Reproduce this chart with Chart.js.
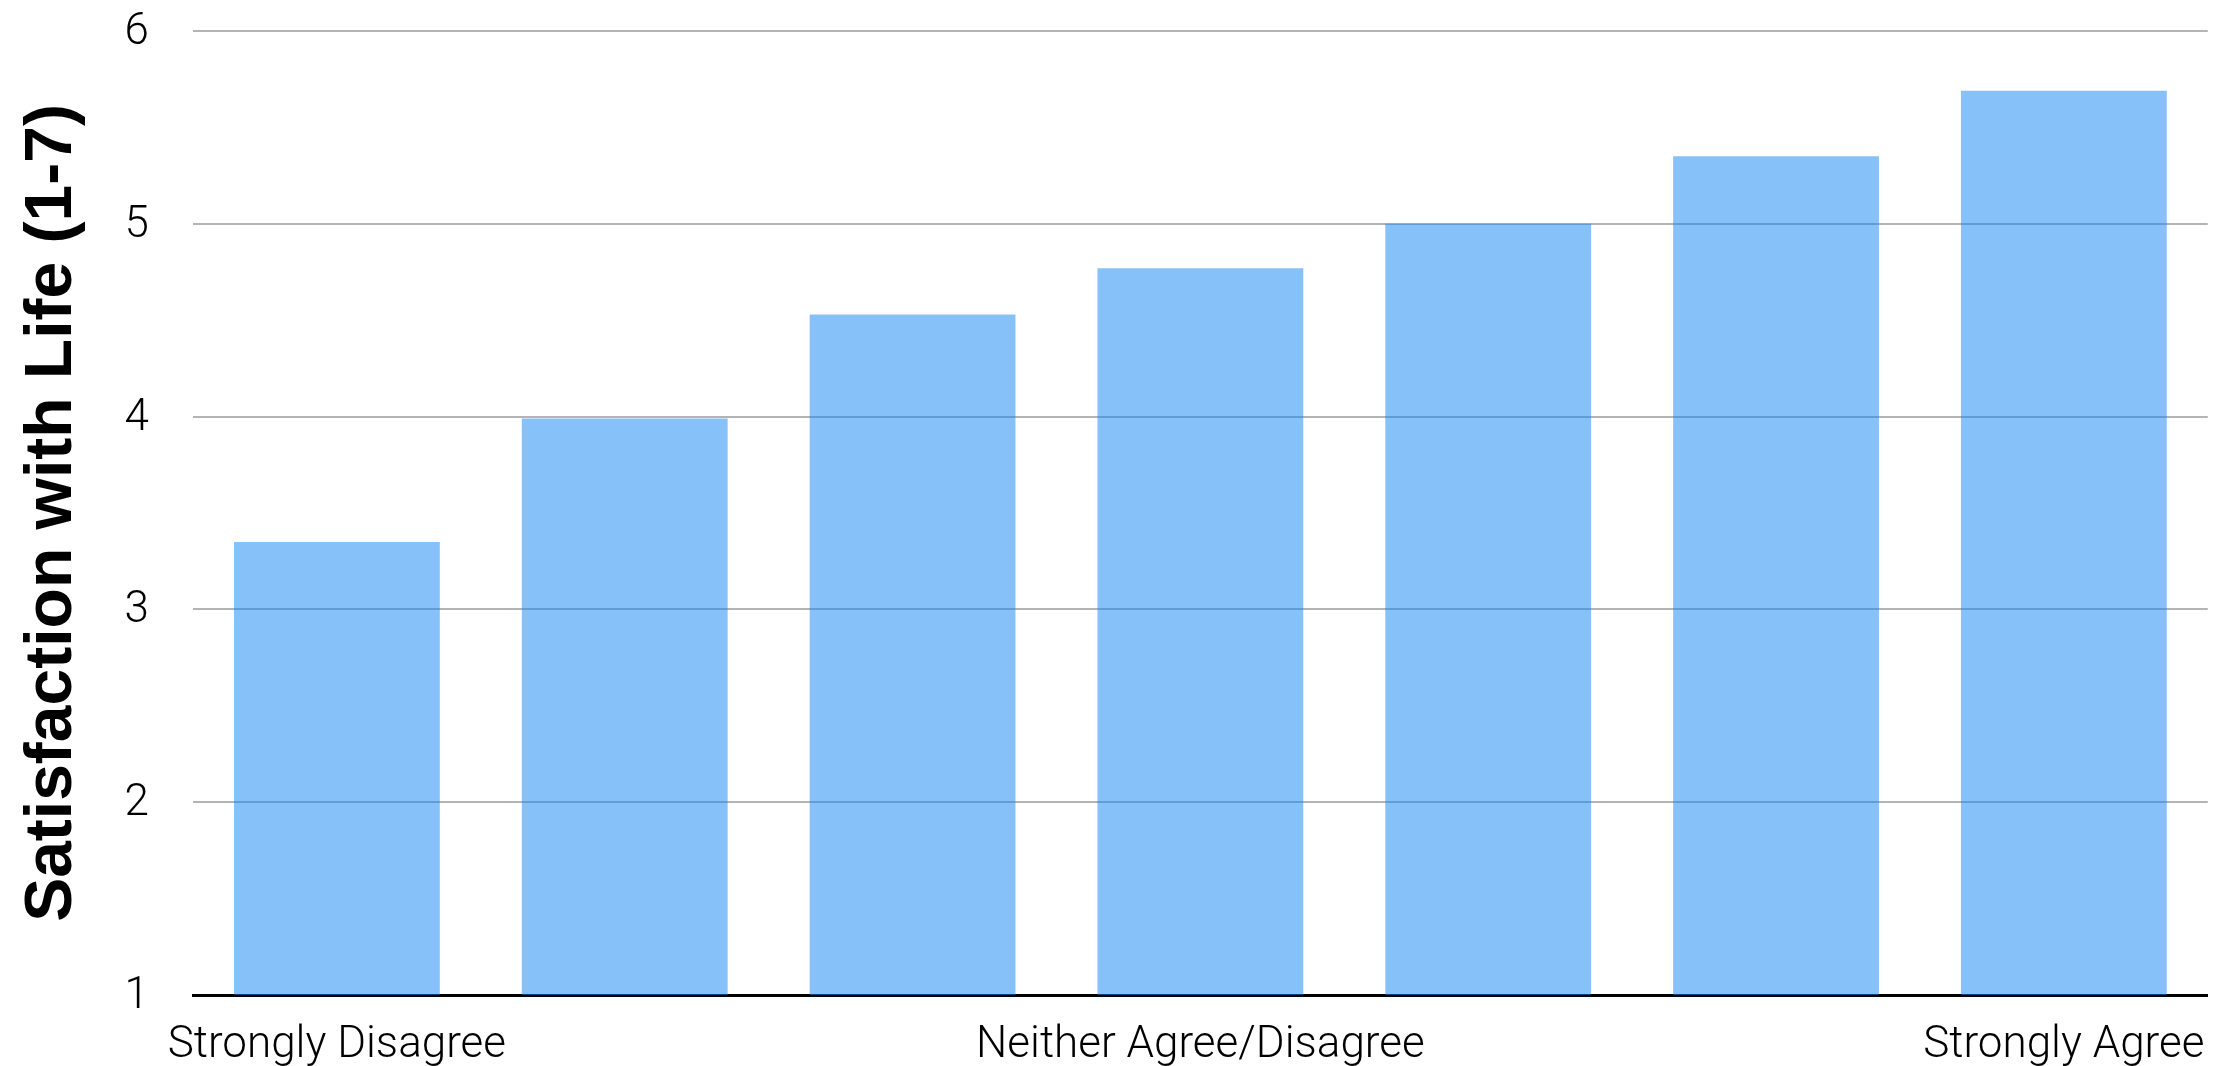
<!DOCTYPE html>
<html>
<head>
<meta charset="utf-8">
<script src="https://cdn.jsdelivr.net/npm/chart.js@4/dist/chart.umd.min.js"></script>
<style>
  html, body { margin: 0; padding: 0; background: #fff; }
  #wrap { width: 2229px; height: 1066px; }
</style>
</head>
<body>
<div id="wrap"><canvas id="c" width="2229" height="1066"></canvas></div>
<script>
const categories = ["Strongly Disagree", "", "", "Neither Agree/Disagree", "", "", "Strongly Agree"];
const satisfaction = [3.35, 3.99, 4.53, 4.77, 5.0, 5.35, 5.69];
const yTicks = [1, 2, 3, 4, 5, 6];
const yTitle = "Satisfaction with Life (1-7)";

const lightFont = "'Roboto Light', Roboto, 'Helvetica Neue', 'Liberation Sans', sans-serif";

new Chart(document.getElementById('c'), {
  type: 'bar',
  data: {
    labels: categories,
    datasets: [{
      data: satisfaction,
      backgroundColor: 'rgba(13,132,245,0.5)',
      borderWidth: 0,
      categoryPercentage: 1.0,
      barPercentage: 0.715
    }]
  },
  options: {
    responsive: false,
    animation: false,
    devicePixelRatio: 1,
    layout: { padding: { top: 0, right: 21, left: 0, bottom: 0 } },
    plugins: { legend: { display: false }, tooltip: { enabled: false } },
    scales: {
      x: {
        grid: { display: false, drawTicks: false },
        border: { display: true, color: '#000', width: 3 },
        ticks: {
          autoSkip: false, maxRotation: 0, minRotation: 0,
          color: '#000', padding: 23,
          font: { family: lightFont, size: 44, weight: 300 }
        },
        afterFit: (s) => { s.height = 71; }
      },
      y: {
        min: 1, max: 6,
        afterBuildTicks: (s) => { s.ticks = yTicks.map(v => ({ value: v })); },
        grid: { color: '#b4b4b4', lineWidth: 2, drawTicks: false },
        border: { display: false },
        ticks: {
          color: '#000', padding: 44,
          font: { family: lightFont, size: 44, weight: 300 }
        },
        title: {
          display: true, text: yTitle, color: '#000',
          font: { family: "'Liberation Sans', Arial, Helvetica, sans-serif", size: 66, weight: 'bold' },
          padding: { top: 13, bottom: 0 }
        },
        afterFit: (s) => { s.width = 193; s.paddingTop = 31; s.paddingBottom = 0; }
      }
    }
  }
});
</script>
</body>
</html>
